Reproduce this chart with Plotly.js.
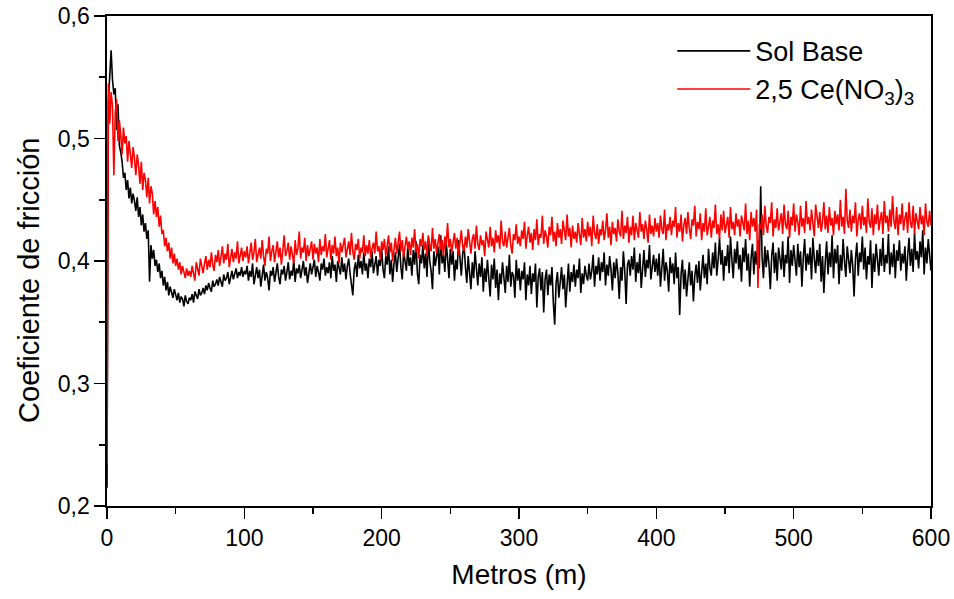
<!DOCTYPE html>
<html>
<head>
<meta charset="utf-8">
<script src="https://cdn.plot.ly/plotly-3.0.1.min.js"></script>
<style>html,body{margin:0;padding:0;background:#fff}#chart{width:954px;height:599px}</style>
</head>
<body>
<div id="chart"></div>
<script>
// Distance (m)
const metros = [0,
  1,2,3,4,5,6,7,8,9,10,
  11,12,13,14,15,16,17,18,19,20,
  21,22,23,24,25,26,27,28,29,30,
  31,32,33,34,35,36,37,38,39,40,
  41,42,43,44,45,46,47,48,49,50,
  51,52,53,54,55,56,57,58,59,60,
  61,62,63,64,65,66,67,68,69,70,
  71,72,73,74,75,76,77,78,79,80,
  81,82,83,84,85,86,87,88,89,90,
  91,92,93,94,95,96,97,98,99,100,
  101,102,103,104,105,106,107,108,109,110,
  111,112,113,114,115,116,117,118,119,120,
  121,122,123,124,125,126,127,128,129,130,
  131,132,133,134,135,136,137,138,139,140,
  141,142,143,144,145,146,147,148,149,150,
  151,152,153,154,155,156,157,158,159,160,
  161,162,163,164,165,166,167,168,169,170,
  171,172,173,174,175,176,177,178,179,180,
  181,182,183,184,185,186,187,188,189,190,
  191,192,193,194,195,196,197,198,199,200,
  201,202,203,204,205,206,207,208,209,210,
  211,212,213,214,215,216,217,218,219,220,
  221,222,223,224,225,226,227,228,229,230,
  231,232,233,234,235,236,237,238,239,240,
  241,242,243,244,245,246,247,248,249,250,
  251,252,253,254,255,256,257,258,259,260,
  261,262,263,264,265,266,267,268,269,270,
  271,272,273,274,275,276,277,278,279,280,
  281,282,283,284,285,286,287,288,289,290,
  291,292,293,294,295,296,297,298,299,300,
  301,302,303,304,305,306,307,308,309,310,
  311,312,313,314,315,316,317,318,319,320,
  321,322,323,324,325,326,327,328,329,330,
  331,332,333,334,335,336,337,338,339,340,
  341,342,343,344,345,346,347,348,349,350,
  351,352,353,354,355,356,357,358,359,360,
  361,362,363,364,365,366,367,368,369,370,
  371,372,373,374,375,376,377,378,379,380,
  381,382,383,384,385,386,387,388,389,390,
  391,392,393,394,395,396,397,398,399,400,
  401,402,403,404,405,406,407,408,409,410,
  411,412,413,414,415,416,417,418,419,420,
  421,422,423,424,425,426,427,428,429,430,
  431,432,433,434,435,436,437,438,439,440,
  441,442,443,444,445,446,447,448,449,450,
  451,452,453,454,455,456,457,458,459,460,
  461,462,463,464,465,466,467,468,469,470,
  471,472,473,474,475,476,477,478,479,480,
  481,482,483,484,485,486,487,488,489,490,
  491,492,493,494,495,496,497,498,499,500,
  501,502,503,504,505,506,507,508,509,510,
  511,512,513,514,515,516,517,518,519,520,
  521,522,523,524,525,526,527,528,529,530,
  531,532,533,534,535,536,537,538,539,540,
  541,542,543,544,545,546,547,548,549,550,
  551,552,553,554,555,556,557,558,559,560,
  561,562,563,564,565,566,567,568,569,570,
  571,572,573,574,575,576,577,578,579,580,
  581,582,583,584,585,586,587,588,589,590,
  591,592,593,594,595,596,597,598,599,600];

// Friction coefficient, Sol Base
const solBase = [0.215,
  0.530,0.551,0.572,0.548,0.536,0.541,0.507,0.528,0.494,0.489,
  0.481,0.468,0.472,0.458,0.466,0.451,0.460,0.447,0.455,0.449,
  0.441,0.452,0.436,0.444,0.429,0.438,0.424,0.431,0.418,0.425,
  0.383,0.413,0.402,0.409,0.396,0.401,0.391,0.398,0.386,0.392,
  0.380,0.387,0.376,0.383,0.372,0.379,0.374,0.370,0.377,0.372,
  0.368,0.374,0.366,0.371,0.369,0.363,0.372,0.367,0.365,0.370,
  0.368,0.373,0.366,0.375,0.371,0.369,0.377,0.372,0.374,0.378,
  0.373,0.380,0.376,0.382,0.378,0.375,0.384,0.379,0.381,0.385,
  0.380,0.387,0.383,0.379,0.389,0.384,0.386,0.391,0.381,0.388,
  0.392,0.385,0.390,0.394,0.386,0.391,0.388,0.395,0.387,0.392,
  0.389,0.396,0.384,0.392,0.387,0.398,0.381,0.390,0.395,0.386,
  0.393,0.379,0.389,0.397,0.384,0.391,0.386,0.376,0.392,0.388,
  0.395,0.383,0.390,0.398,0.387,0.381,0.393,0.389,0.396,0.384,
  0.391,0.399,0.385,0.392,0.388,0.401,0.383,0.394,0.390,0.397,
  0.386,0.393,0.400,0.388,0.395,0.382,0.391,0.398,0.389,0.394,
  0.401,0.387,0.396,0.391,0.384,0.398,0.393,0.402,0.388,0.395,
  0.390,0.399,0.386,0.404,0.392,0.397,0.383,0.400,0.394,0.389,
  0.403,0.391,0.398,0.385,0.396,0.402,0.390,0.379,0.372,0.393,
  0.399,0.387,0.405,0.394,0.400,0.389,0.407,0.392,0.398,0.386,
  0.402,0.395,0.408,0.390,0.399,0.404,0.388,0.401,0.396,0.410,
  0.393,0.386,0.404,0.397,0.412,0.389,0.401,0.383,0.398,0.407,
  0.391,0.402,0.414,0.395,0.385,0.408,0.399,0.392,0.411,0.396,
  0.403,0.388,0.409,0.397,0.416,0.390,0.381,0.405,0.398,0.413,
  0.394,0.406,0.387,0.419,0.400,0.392,0.377,0.408,0.396,0.403,
  0.412,0.389,0.421,0.398,0.405,0.391,0.415,0.402,0.386,0.410,
  0.397,0.408,0.384,0.401,0.393,0.417,0.399,0.388,0.406,0.413,
  0.395,0.382,0.404,0.391,0.377,0.399,0.386,0.408,0.392,0.380,
  0.398,0.387,0.403,0.375,0.394,0.383,0.401,0.389,0.371,0.397,
  0.385,0.402,0.378,0.393,0.368,0.390,0.381,0.399,0.386,0.374,
  0.396,0.383,0.405,0.379,0.391,0.388,0.370,0.401,0.384,0.394,
  0.376,0.392,0.385,0.399,0.368,0.389,0.380,0.396,0.373,0.390,
  0.383,0.398,0.362,0.387,0.394,0.376,0.391,0.358,0.385,0.393,
  0.372,0.389,0.380,0.395,0.366,0.348,0.382,0.391,0.370,0.387,
  0.395,0.377,0.389,0.362,0.384,0.398,0.375,0.391,0.383,0.397,
  0.379,0.393,0.386,0.402,0.374,0.390,0.381,0.396,0.388,0.384,
  0.398,0.385,0.392,0.405,0.379,0.396,0.389,0.403,0.384,0.399,
  0.391,0.407,0.380,0.397,0.388,0.404,0.393,0.376,0.399,0.386,
  0.402,0.390,0.369,0.395,0.384,0.408,0.392,0.365,0.397,0.401,
  0.388,0.404,0.393,0.411,0.383,0.399,0.390,0.406,0.378,0.396,
  0.409,0.387,0.401,0.394,0.413,0.385,0.398,0.405,0.391,0.402,
  0.388,0.406,0.379,0.397,0.410,0.384,0.399,0.392,0.375,0.403,
  0.390,0.398,0.381,0.407,0.386,0.395,0.356,0.389,0.401,0.377,
  0.393,0.371,0.386,0.399,0.380,0.392,0.367,0.388,0.397,0.382,
  0.400,0.376,0.391,0.405,0.386,0.398,0.381,0.410,0.394,0.388,
  0.407,0.394,0.415,0.388,0.401,0.419,0.397,0.409,0.384,0.404,
  0.396,0.413,0.390,0.420,0.401,0.386,0.410,0.398,0.416,0.393,
  0.405,0.383,0.411,0.399,0.418,0.392,0.406,0.379,0.402,0.414,
  0.389,0.408,0.397,0.417,0.394,0.461,0.403,0.386,0.412,0.395,
  0.409,0.398,0.377,0.404,0.415,0.390,0.407,0.384,0.411,0.400,
  0.393,0.416,0.387,0.405,0.398,0.420,0.382,0.409,0.396,0.413,
  0.401,0.388,0.414,0.395,0.408,0.379,0.403,0.418,0.392,0.406,
  0.397,0.411,0.385,0.419,0.402,0.390,0.409,0.396,0.414,0.383,
  0.404,0.374,0.399,0.416,0.389,0.407,0.395,0.421,0.386,0.410,
  0.398,0.413,0.381,0.405,0.392,0.418,0.400,0.387,0.412,0.403,
  0.390,0.409,0.396,0.371,0.402,0.415,0.388,0.407,0.399,0.420,
  0.393,0.411,0.385,0.404,0.397,0.417,0.378,0.406,0.391,0.414,
  0.402,0.388,0.410,0.396,0.419,0.391,0.405,0.398,0.422,0.389,
  0.407,0.395,0.414,0.386,0.409,0.400,0.417,0.392,0.406,0.398,
  0.412,0.384,0.404,0.419,0.396,0.410,0.391,0.423,0.401,0.408,
  0.394,0.416,0.403,0.425,0.389,0.411,0.398,0.418,0.405,0.392];

// Friction coefficient, 2,5 Ce(NO3)3
const ceNitrato = [0.234,
  0.545,0.512,0.538,0.526,0.470,0.521,0.532,0.498,0.515,0.503,
  0.487,0.509,0.496,0.502,0.481,0.498,0.489,0.476,0.493,0.484,
  0.470,0.487,0.478,0.463,0.481,0.458,0.472,0.466,0.452,0.468,
  0.447,0.461,0.455,0.438,0.449,0.436,0.444,0.428,0.437,0.422,
  0.425,0.412,0.419,0.408,0.415,0.402,0.411,0.398,0.406,0.396,
  0.402,0.393,0.399,0.389,0.396,0.391,0.386,0.394,0.388,0.392,
  0.387,0.396,0.389,0.384,0.399,0.392,0.388,0.402,0.394,0.390,
  0.398,0.404,0.393,0.401,0.395,0.407,0.397,0.392,0.405,0.399,
  0.409,0.396,0.403,0.412,0.398,0.406,0.401,0.414,0.395,0.404,
  0.410,0.399,0.407,0.402,0.416,0.398,0.405,0.411,0.400,0.408,
  0.403,0.412,0.398,0.409,0.415,0.401,0.407,0.418,0.399,0.405,
  0.411,0.402,0.417,0.404,0.396,0.410,0.406,0.420,0.400,0.408,
  0.413,0.399,0.407,0.416,0.403,0.411,0.397,0.409,0.421,0.404,
  0.408,0.415,0.401,0.412,0.406,0.398,0.417,0.405,0.410,0.424,
  0.402,0.411,0.407,0.419,0.400,0.413,0.404,0.409,0.416,0.401,
  0.414,0.406,0.411,0.399,0.418,0.405,0.412,0.408,0.422,0.403,
  0.409,0.417,0.401,0.413,0.406,0.420,0.404,0.411,0.398,0.415,
  0.407,0.412,0.419,0.403,0.410,0.416,0.405,0.423,0.408,0.401,
  0.414,0.409,0.418,0.402,0.411,0.407,0.421,0.404,0.413,0.406,
  0.417,0.403,0.410,0.415,0.406,0.424,0.408,0.412,0.401,0.416,
  0.409,0.418,0.404,0.413,0.421,0.407,0.415,0.400,0.411,0.419,
  0.406,0.414,0.424,0.408,0.417,0.403,0.412,0.420,0.410,0.416,
  0.405,0.419,0.411,0.426,0.407,0.414,0.402,0.418,0.412,0.423,
  0.409,0.416,0.404,0.421,0.413,0.408,0.427,0.410,0.418,0.406,
  0.415,0.422,0.409,0.417,0.404,0.420,0.413,0.431,0.411,0.418,
  0.407,0.416,0.423,0.410,0.419,0.405,0.414,0.425,0.412,0.408,
  0.420,0.411,0.426,0.415,0.406,0.418,0.422,0.410,0.429,0.414,
  0.409,0.421,0.413,0.417,0.404,0.424,0.416,0.411,0.428,0.412,
  0.419,0.407,0.425,0.415,0.421,0.410,0.433,0.416,0.412,0.424,
  0.411,0.418,0.427,0.413,0.406,0.422,0.417,0.430,0.414,0.420,
  0.412,0.425,0.418,0.432,0.410,0.421,0.428,0.415,0.423,0.409,
  0.426,0.417,0.434,0.413,0.422,0.419,0.437,0.414,0.425,0.420,
  0.411,0.428,0.421,0.436,0.416,0.424,0.412,0.431,0.419,0.426,
  0.414,0.433,0.422,0.417,0.438,0.420,0.427,0.411,0.429,0.418,
  0.424,0.415,0.431,0.421,0.413,0.435,0.419,0.426,0.416,0.432,
  0.420,0.428,0.412,0.437,0.423,0.418,0.430,0.414,0.426,0.421,
  0.433,0.417,0.425,0.439,0.419,0.428,0.413,0.432,0.422,0.427,
  0.416,0.434,0.424,0.420,0.441,0.418,0.429,0.423,0.436,0.415,
  0.428,0.421,0.437,0.417,0.431,0.425,0.419,0.440,0.424,0.430,
  0.418,0.433,0.426,0.415,0.438,0.422,0.429,0.420,0.435,0.424,
  0.431,0.419,0.437,0.426,0.422,0.442,0.417,0.430,0.425,0.436,
  0.421,0.433,0.428,0.444,0.419,0.431,0.424,0.438,0.416,0.429,
  0.435,0.422,0.440,0.427,0.418,0.434,0.429,0.445,0.420,0.432,
  0.426,0.439,0.417,0.431,0.424,0.443,0.421,0.428,0.436,0.419,
  0.433,0.427,0.446,0.422,0.430,0.418,0.438,0.425,0.441,0.423,
  0.429,0.436,0.419,0.444,0.426,0.432,0.421,0.439,0.428,0.434,
  0.420,0.437,0.431,0.425,0.447,0.422,0.433,0.417,0.440,0.428,
  0.435,0.424,0.442,0.378,0.430,0.426,0.438,0.421,0.445,0.429,
  0.423,0.436,0.431,0.448,0.420,0.434,0.427,0.443,0.425,0.432,
  0.439,0.422,0.446,0.430,0.426,0.441,0.419,0.436,0.429,0.447,
  0.424,0.438,0.432,0.421,0.445,0.428,0.435,0.423,0.449,0.430,
  0.436,0.425,0.442,0.431,0.420,0.446,0.433,0.427,0.440,0.424,
  0.432,0.448,0.426,0.437,0.423,0.444,0.429,0.435,0.421,0.441,
  0.430,0.438,0.425,0.450,0.428,0.436,0.422,0.459,0.433,0.427,
  0.442,0.424,0.437,0.431,0.448,0.420,0.434,0.439,0.426,0.445,
  0.429,0.436,0.423,0.451,0.432,0.427,0.443,0.421,0.438,0.430,
  0.446,0.425,0.434,0.440,0.422,0.449,0.431,0.437,0.424,0.442,
  0.428,0.453,0.433,0.426,0.444,0.421,0.438,0.430,0.447,0.425,
  0.435,0.440,0.423,0.448,0.431,0.427,0.445,0.422,0.439,0.433,
  0.426,0.444,0.430,0.437,0.421,0.447,0.432,0.428,0.441,0.429];

const seriesNames = ['Sol Base', '2,5 Ce(NO<sub>3</sub>)<sub>3</sub>'];
const xTitle = 'Metros (m)';
const yTitle = 'Coeficiente de fricción';

const FONT = 'Arial, "Liberation Sans", sans-serif';

const traces = [
  {x: metros, y: solBase, name: seriesNames[0], type: 'scatter', mode: 'lines',
   line: {color: '#000000', width: 1.6}},
  {x: metros, y: ceNitrato, name: seriesNames[1], type: 'scatter', mode: 'lines',
   line: {color: '#ff0000', width: 1.6}}
];

const axisCommon = {
  showline: true, linecolor: '#000', linewidth: 1.6, mirror: true,
  ticks: 'outside', ticklen: 11, tickwidth: 1.6, tickcolor: '#000',
  showgrid: false, zeroline: false,
  tickfont: {family: FONT, size: 23, color: '#000'}
};

const layout = {
  width: 954, height: 599,
  margin: {l: 107, r: 23, t: 16, b: 93},
  paper_bgcolor: '#fff', plot_bgcolor: '#fff',
  separators: ', ',
  font: {family: FONT, color: '#000'},
  showlegend: true,
  legend: {x: 0.686, xanchor: 'left', y: 0.978, yanchor: 'top',
           bgcolor: 'rgba(0,0,0,0)', borderwidth: 0, itemwidth: 73,
           font: {family: FONT, size: 27, color: '#000'}, tracegroupgap: 0},
  xaxis: Object.assign({}, axisCommon, {
    range: [0, 600], dtick: 100, tick0: 0,
    minor: {dtick: 50, ticks: 'outside', ticklen: 6, tickwidth: 1.6, tickcolor: '#000'},
    title: {text: xTitle, font: {family: FONT, size: 28, color: '#000'}, standoff: 14}
  }),
  yaxis: Object.assign({}, axisCommon, {
    range: [0.2, 0.6], dtick: 0.1, tick0: 0.2, tickformat: '.1f',
    minor: {dtick: 0.05, ticks: 'outside', ticklen: 6, tickwidth: 1.6, tickcolor: '#000'}
  }),
  annotations: [{
    text: yTitle, xref: 'paper', yref: 'paper', x: -0.0955, y: 0.46,
    xanchor: 'center', yanchor: 'middle', textangle: -90, showarrow: false,
    font: {family: FONT, size: 29, color: '#000'}
  }]
};

Plotly.newPlot('chart', traces, layout, {displayModeBar: false, staticPlot: true});
</script>
</body>
</html>
